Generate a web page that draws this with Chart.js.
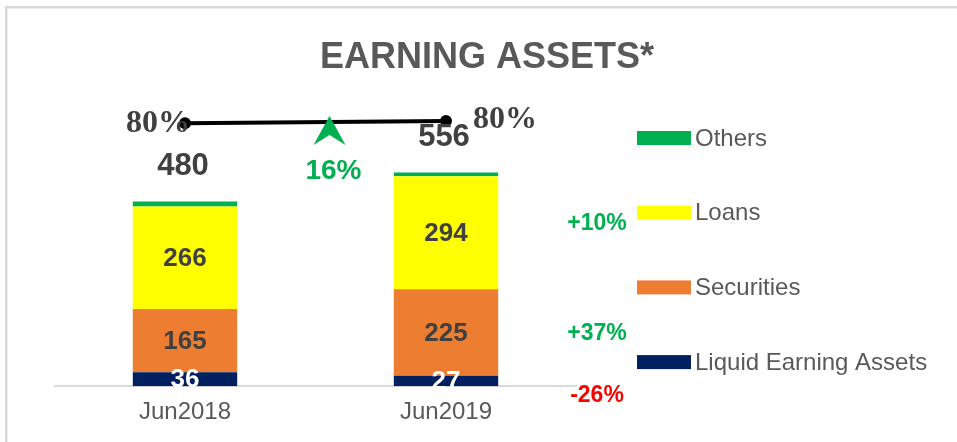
<!DOCTYPE html>
<html>
<head>
<meta charset="utf-8">
<script src="https://cdn.jsdelivr.net/npm/chart.js@4"></script>
<style>
html,body{margin:0;padding:0;background:#fff;}
canvas{display:block;}
</style>
</head>
<body>
<canvas id="c" width="957" height="442"></canvas>
<script>
const categories = ['Jun2018', 'Jun2019'];
const liquidEarningAssets = [36, 27];
const securities = [165, 225];
const loans = [266, 294];
const others = [13, 10];
const totals = [480, 556];
const ratioValues = [79.6, 80.3];
const ratioLabels = ['80%', '80%'];
const totalGrowth = '16%';
const segmentGrowth = ['+10%', '+37%', '-26%'];
const seriesNames = ['Liquid Earning Assets', 'Securities', 'Loans', 'Others'];
const seriesColors = ['#002060', '#ED7D31', '#FFFF00', '#00B050'];

const SANS = '"Liberation Sans", Arial, sans-serif';
const SERIF = '"Liberation Serif", "Times New Roman", serif';

const deco = {
  id: 'deco',
  beforeDraw(chart) {
    const c = chart.ctx;
    c.save();
    c.fillStyle = '#ffffff';
    c.fillRect(0, 0, chart.width, chart.height);
    c.fillStyle = '#d9d9d9';
    c.fillRect(5, 6, chart.width - 5, 2.5);
    c.fillRect(5, 6, 2.5, chart.height - 6);
    c.restore();
  },
  afterDatasetsDraw(chart) {
    const c = chart.ctx;
    const ca = chart.chartArea;
    c.save();
    // title
    c.fillStyle = '#595959';
    c.font = 'bold 36px ' + SANS;
    c.textAlign = 'center';
    c.textBaseline = 'middle';
    c.fillText('EARNING ASSETS*', 487, 58);

    // segment labels
    c.font = 'bold 26px ' + SANS;
    for (let d = 0; d < 3; d++) {
      const meta = chart.getDatasetMeta(d);
      meta.data.forEach((el, i) => {
        const v = chart.data.datasets[d].data[i];
        c.fillStyle = d === 0 ? '#ffffff' : '#404040';
        c.fillText(String(v), el.x, (el.y + el.base) / 2 + 1);
      });
    }
    // totals
    c.font = 'bold 31px ' + SANS;
    c.fillStyle = '#404040';
    const topMeta = chart.getDatasetMeta(3);
    topMeta.data.forEach((el, i) => {
      c.fillText(String(totals[i]), el.x - 2, el.y - 35);
    });

    // line labels
    const lm = chart.getDatasetMeta(4);
    c.font = 'bold 32px ' + SERIF;
    c.fillStyle = '#404040';
    const p0 = lm.data[0], p1 = lm.data[1];
    c.textAlign = 'right';
    c.fillText(ratioLabels[0], p0.x + 5, p0.y);
    c.textAlign = 'left';
    c.fillText(ratioLabels[1], p1.x + 27, p1.y - 1);

    // arrow + total growth
    const mx = (p0.x + p1.x) / 2 + 14;
    const ly = (p0.y + p1.y) / 2;
    c.fillStyle = '#00B050';
    c.beginPath();
    c.moveTo(mx, ly - 6);
    c.lineTo(mx + 16, ly + 23);
    c.lineTo(mx, ly + 13);
    c.lineTo(mx - 16, ly + 23);
    c.closePath();
    c.fill();
    c.font = 'bold 28px ' + SANS;
    c.textAlign = 'center';
    c.fillText(totalGrowth, mx + 4, ly + 49);

    // segment growth labels (next to Jun2019 segments)
    c.font = 'bold 23px ' + SANS;
    const gx = ca.right + 20.5;
    const loanEl = chart.getDatasetMeta(2).data[1];
    const secEl = chart.getDatasetMeta(1).data[1];
    const liqEl = chart.getDatasetMeta(0).data[1];
    c.fillStyle = '#00B050';
    c.fillText(segmentGrowth[0], gx, (loanEl.y + loanEl.base) / 2 - 9);
    c.fillText(segmentGrowth[1], gx, (secEl.y + secEl.base) / 2 + 1.5);
    c.fillStyle = '#FF0000';
    c.fillText(segmentGrowth[2], gx, (liqEl.y + liqEl.base) / 2 + 15);

    // legend
    c.font = '24px ' + SANS;
    c.textAlign = 'left';
    const order = [3, 2, 1, 0];
    order.forEach((d, k) => {
      const yc = ca.top + 21 + k * 74.7;
      const lx = ca.right + 60.5;
      c.fillStyle = chart.data.datasets[d].backgroundColor;
      c.fillRect(lx, yc - 7, 54, 14);
      c.fillStyle = '#595959';
      c.fillText(chart.data.datasets[d].label, lx + 58, yc + 1);
    });
    c.restore();
  }
};

const barSet = (i, data) => ({
  type: 'bar',
  label: seriesNames[i],
  data: data,
  backgroundColor: seriesColors[i],
  borderWidth: 0,
  yAxisID: 'y',
  stack: 'assets',
  order: 2,
  barPercentage: 1,
  categoryPercentage: 0.4
});

new Chart(document.getElementById('c'), {
  data: {
    labels: categories,
    datasets: [
      barSet(0, liquidEarningAssets),
      barSet(1, securities),
      barSet(2, loans),
      barSet(3, others),
      {
        type: 'line',
        label: 'Ratio',
        data: ratioValues,
        yAxisID: 'y2',
        borderColor: '#000000',
        borderWidth: 4,
        pointRadius: 6,
        pointBackgroundColor: '#000000',
        pointBorderWidth: 0,
        tension: 0,
        clip: false,
        order: 0
      }
    ]
  },
  options: {
    responsive: false,
    animation: false,
    devicePixelRatio: 1,
    layout: { padding: { left: 54.5, right: 380.5, top: 117, bottom: 3 } },
    plugins: { legend: { display: false }, title: { display: false }, tooltip: { enabled: false } },
    scales: {
      x: {
        stacked: true,
        grid: { display: false, drawTicks: false },
        border: { display: true, color: '#d9d9d9', width: 2 },
        ticks: { color: '#595959', font: { family: SANS, size: 24 }, padding: 12 }
      },
      y: { stacked: true, display: false, min: 0, max: 700 },
      y2: { display: false, min: 0, max: 81.5 }
    }
  },
  plugins: [deco]
});
</script>
</body>
</html>
